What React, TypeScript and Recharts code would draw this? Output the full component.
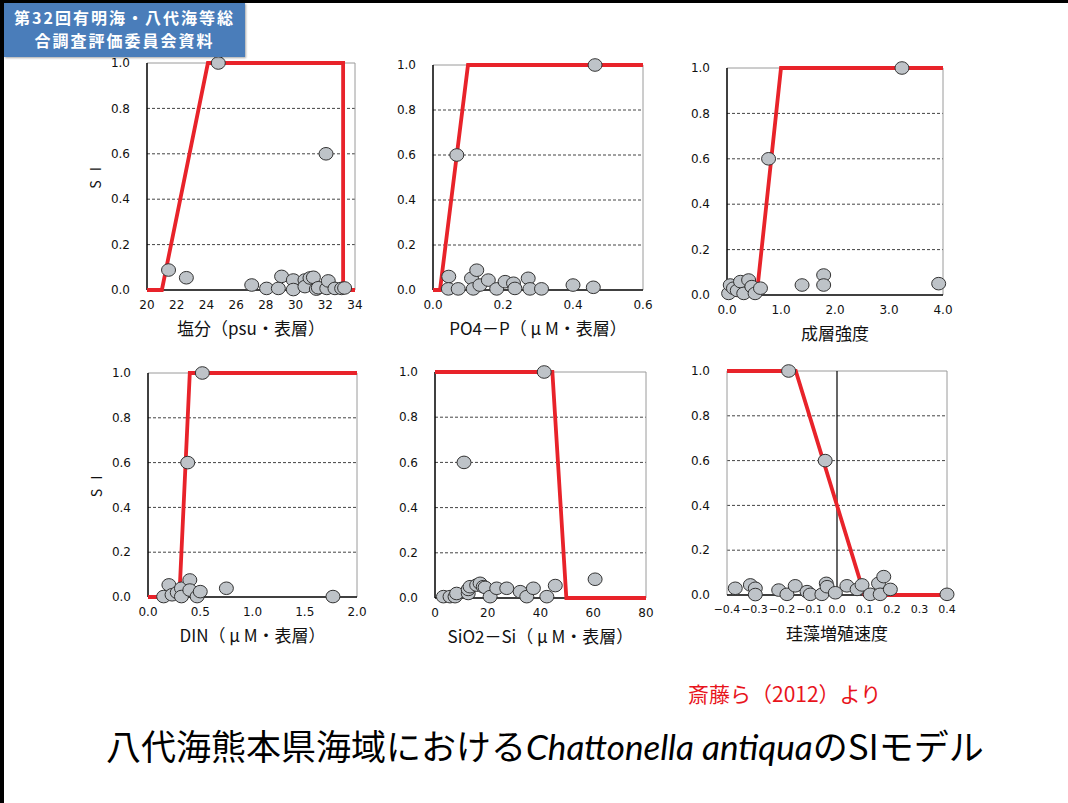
import { ScatterChart, Scatter, XAxis, YAxis, ReferenceLine } from "recharts";

type Pt = { x: number; y: number };
const pts = (a: number[][]): Pt[] => a.map(([x, y]) => ({ x, y }));

const SI_TICKS = [0, 0.2, 0.4, 0.6, 0.8, 1.0];
const SI_GRID = [0.2, 0.4, 0.6, 0.8];

// 塩分
const salinityTicks = [20, 22, 24, 26, 28, 30, 32, 34];
const salinityModel = pts([[20, 0], [21, 0], [24.1, 1], [33.2, 1], [33.2, 0], [34, 0]]);
const salinityObs = pts([
  [21.45, 0.088], [22.65, 0.054], [24.8, 1.0], [32.05, 0.6],
  [27.05, 0.022], [28.05, 0.007], [28.84, 0.007], [29.06, 0.06], [29.85, 0.044],
  [29.85, 0.002], [30.63, 0.044], [30.63, 0.015], [30.97, 0.053], [31.2, 0.056],
  [31.4, 0.004], [31.53, 0.01], [32.1, 0.007], [32.2, 0.04], [32.65, 0.007],
  [33.1, 0.007], [33.3, 0.009],
]);

// PO4-P
const po4Ticks = [0, 0.2, 0.4, 0.6];
const po4Model = pts([[0, 0], [0.02, 0], [0.1, 1], [0.6, 1]]);
const po4Obs = pts([
  [0.068, 0.6], [0.463, 1.0],
  [0.045, 0.06], [0.044, 0.005], [0.072, 0.005], [0.11, 0.052], [0.115, 0.005],
  [0.125, 0.088], [0.134, 0.022], [0.158, 0.044], [0.182, 0.005], [0.206, 0.037],
  [0.23, 0.03], [0.234, 0.007], [0.272, 0.052], [0.277, 0.005], [0.31, 0.005],
  [0.4, 0.022], [0.458, 0.012],
]);

// 成層強度
const stratTicks = [0, 1, 2, 3, 4];
const stratModel = pts([[0, 0], [0.55, 0], [1.0, 1], [4, 1]]);
const stratObs = pts([
  [0.77, 0.6], [3.24, 1.0], [1.39, 0.044], [1.79, 0.088], [1.79, 0.044], [3.92, 0.05],
  [0.03, 0.007], [0.06, 0.044], [0.12, 0.03], [0.19, 0.02], [0.25, 0.059],
  [0.31, 0.007], [0.4, 0.066], [0.46, 0.037], [0.52, 0.007], [0.62, 0.03],
]);

// DIN
const dinTicks = [0, 0.5, 1, 1.5, 2];
const dinModel = pts([[0, 0], [0.3, 0], [0.4, 1], [2, 1]]);
const dinObs = pts([
  [0.52, 1.0], [0.38, 0.6], [0.75, 0.039], [1.77, 0.002],
  [0.15, 0.002], [0.2, 0.054], [0.23, 0.01], [0.28, 0.02], [0.32, 0.039],
  [0.32, 0.002], [0.4, 0.076], [0.4, 0.031], [0.47, 0.002], [0.5, 0.024],
]);

// SiO2-Si
const sio2Ticks = [0, 20, 40, 60, 80];
const sio2Model = pts([[0, 1], [44.5, 1], [49.8, 0], [80, 0]]);
const sio2Obs = pts([
  [41.4, 1.0], [11.0, 0.6], [60.7, 0.083],
  [3.2, 0.006], [5.7, 0.006], [7.6, 0.006], [8.2, 0.02], [12.6, 0.02], [12.6, 0.038],
  [13.3, 0.05], [15.8, 0.057], [17.1, 0.065], [18.3, 0.05], [19, 0.047], [20.9, 0.006],
  [23.4, 0.043], [27.2, 0.043], [32.3, 0.028], [34.8, 0.006], [37.3, 0.043],
  [42.4, 0.006], [45.6, 0.055],
]);

// 珪藻増殖速度
const diatomTicks = [-0.4, -0.3, -0.2, -0.1, 0, 0.1, 0.2, 0.3, 0.4];
const diatomModel = pts([[-0.4, 1], [-0.15, 1], [0.1, 0], [0.4, 0]]);
const diatomObs = pts([
  [-0.176, 1.0], [-0.043, 0.6], [0.4, 0.003],
  [-0.37, 0.03], [-0.315, 0.045], [-0.297, 0.03], [-0.297, 0.002], [-0.212, 0.022],
  [-0.182, 0.003], [-0.152, 0.041], [-0.109, 0.015], [-0.097, 0.003], [-0.055, 0.003],
  [-0.039, 0.052], [-0.036, 0.037], [-0.006, 0.01], [0.036, 0.041], [0.073, 0.025],
  [0.091, 0.045], [0.121, 0.003], [0.151, 0.052], [0.157, 0.003], [0.17, 0.082],
  [0.194, 0.025],
]);

const RED = "#E8232A";
const CJK = '"Noto Sans CJK JP", sans-serif';
const NUM = '"DejaVu Sans", sans-serif';

const Marker = (p: any) => (
  <ellipse cx={p.cx} cy={p.cy} rx={7} ry={6.3} fill="#BEC3C8" stroke="#333" strokeWidth={1} />
);
const NoMark = () => <g />;

const Y_W = 80;
const X_H = 52;
const PAD = 12;

interface PanelProps {
  left: number;
  top: number;
  width: number;
  height: number;
  ticks: number[];
  fmt: (v: number) => string;
  model: Pt[];
  obs: Pt[];
  title: string;
  siLabel?: boolean;
  zeroAxis?: boolean;
  tickSize?: number;
}

function SIPanel({ left, top, width, height, ticks, fmt, model, obs, title, siLabel, zeroAxis, tickSize = 12 }: PanelProps) {
  const lo = ticks[0];
  const hi = ticks[ticks.length - 1];
  return (
    <div style={{ position: "absolute", left: left - Y_W, top: top - PAD }}>
      <ScatterChart
        width={Y_W + width + PAD}
        height={PAD + height + X_H}
        margin={{ top: PAD, right: PAD, left: 0, bottom: 0 }}
      >
        <XAxis
          type="number"
          dataKey="x"
          domain={[lo, hi]}
          ticks={ticks}
          interval={0}
          tickFormatter={fmt}
          height={X_H}
          tickLine={false}
          tickMargin={4}
          axisLine={{ stroke: "#000", strokeWidth: 1.5 }}
          tick={{ fontSize: tickSize, fill: "#111", fontFamily: NUM }}
          label={{
            value: title,
            position: "insideBottom",
            offset: 7,
            fontSize: 17,
            fill: "#111",
            fontFamily: CJK,
          }}
        />
        <YAxis
          type="number"
          dataKey="y"
          domain={[0, 1]}
          ticks={SI_TICKS}
          interval={0}
          tickFormatter={(v: number) => v.toFixed(1)}
          width={Y_W}
          tickLine={false}
          tickMargin={11}
          axisLine={zeroAxis ? false : { stroke: "#000", strokeWidth: 1.5 }}
          tick={{ fontSize: 12, fill: "#111", fontFamily: NUM }}
          label={
            siLabel
              ? {
                  value: "S I",
                  angle: -90,
                  position: "center",
                  dx: -11,
                  fontSize: 14,
                  letterSpacing: 3,
                  fill: "#111",
                  fontFamily: CJK,
                }
              : undefined
          }
        />
        {SI_GRID.map((g) => (
          <ReferenceLine key={g} y={g} stroke="#444" strokeDasharray="3 2" strokeWidth={1} />
        ))}
        <ReferenceLine y={1} stroke="#9a9a9a" strokeWidth={1} />
        <ReferenceLine x={hi} stroke="#9a9a9a" strokeWidth={1} />
        {zeroAxis && <ReferenceLine x={lo} stroke="#9a9a9a" strokeWidth={1} />}
        {zeroAxis && <ReferenceLine x={0} stroke="#000" strokeWidth={1.2} />}
        <Scatter
          data={model}
          line={{ stroke: RED, strokeWidth: 3.8 }}
          lineType="joint"
          shape={NoMark}
          isAnimationActive={false}
        />
        <Scatter data={obs} shape={Marker} isAnimationActive={false} />
      </ScatterChart>
    </div>
  );
}

const one = (v: number) => v.toFixed(1);
const diatomFmt = (v: number) => (v < 0 ? "\u2212" + Math.abs(v).toFixed(1) : v.toFixed(1));

const badgeLine = {
  position: "absolute" as const,
  left: 0,
  width: 241,
  textAlign: "center" as const,
  fontSize: 16,
  lineHeight: "23px",
  letterSpacing: 2,
  fontWeight: 700,
  color: "#fff",
  whiteSpace: "nowrap" as const,
};

export default function App() {
  return (
    <div
      style={{
        position: "relative",
        width: 1068,
        height: 803,
        background: "#fff",
        overflow: "hidden",
        fontFamily: CJK,
      }}
    >
      <style>{"body{margin:0}"}</style>
      <div style={{ position: "absolute", left: 0, top: 0, width: 4, height: 803, background: "#000" }} />
      <div style={{ position: "absolute", left: 0, top: 0, width: 1068, height: 3, background: "#000" }} />

      <SIPanel left={147} top={63} width={208} height={227} ticks={salinityTicks} fmt={(v) => String(v)}
        model={salinityModel} obs={salinityObs} title="塩分（psu・表層）" siLabel />
      <SIPanel left={433} top={65} width={210} height={225} ticks={po4Ticks} fmt={one}
        model={po4Model} obs={po4Obs} title="PO4－P（ μ M・表層）" />
      <SIPanel left={727} top={68} width={216} height={227} ticks={stratTicks} fmt={one}
        model={stratModel} obs={stratObs} title="成層強度" />
      <SIPanel left={148} top={373} width={209} height={224} ticks={dinTicks} fmt={one}
        model={dinModel} obs={dinObs} title="DIN（ μ M・表層）" siLabel />
      <SIPanel left={435} top={372} width={211} height={226} ticks={sio2Ticks} fmt={(v) => String(v)}
        model={sio2Model} obs={sio2Obs} title="SiO2－Si（ μ M・表層）" />
      <SIPanel left={727} top={371} width={220} height={224} ticks={diatomTicks} fmt={diatomFmt}
        model={diatomModel} obs={diatomObs} title="珪藻増殖速度" zeroAxis tickSize={11} />

      <div
        style={{
          position: "absolute",
          left: 4,
          top: 3,
          width: 241,
          height: 54,
          background: "#4A7DBA",
          boxShadow: "1px 1px 2px rgba(0,0,0,0.35)",
        }}
      >
        <div style={{ ...badgeLine, top: 3 }}>第32回有明海・八代海等総</div>
        <div style={{ ...badgeLine, top: 26 }}>合調査評価委員会資料</div>
      </div>

      <div style={{ position: "absolute", left: 688, top: 679, fontSize: 21, color: "#E8141C", lineHeight: "28px", whiteSpace: "nowrap" }}>
        斎藤ら（2012）より
      </div>
      <div style={{ position: "absolute", left: 106, top: 721, fontSize: 35, color: "#000", lineHeight: "48px", whiteSpace: "nowrap" }}>
        八代海熊本県海域における
        <span style={{ fontFamily: 'Lato, "Open Sans", sans-serif', fontStyle: "italic" }}>Chattonella antiqua</span>
        のSIモデル
      </div>
    </div>
  );
}
